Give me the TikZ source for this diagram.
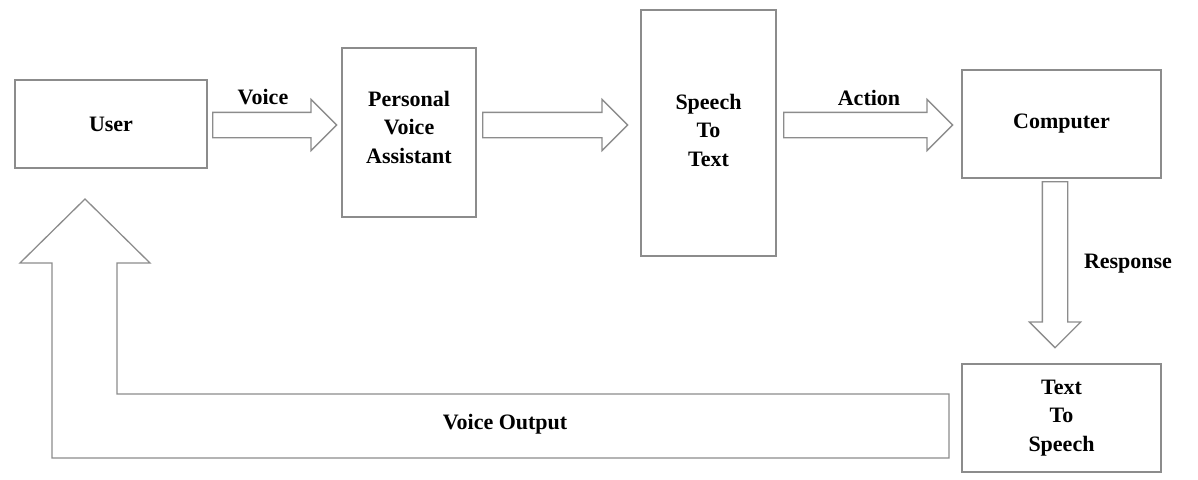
\documentclass[tikz,border=0pt]{standalone}
\usepackage{fontspec}
\setmainfont{Liberation Serif}
\usetikzlibrary{shapes.arrows}
\definecolor{linegray}{HTML}{8C8C8C}

\begin{document}
\begin{tikzpicture}[x=1pt, y=-1pt,
		box/.style={draw=linegray, line width=1.3pt, inner sep=0pt, align=center,
			font=\bfseries\fontsize{22}{28.5}\selectfont},
		lbl/.style={font=\bfseries\fontsize{22}{28.5}\selectfont, align=center},
		barrow/.style={single arrow, draw=linegray, line width=1.3pt, inner xsep=0pt,
			inner ysep=12pt, single arrow head extend=13pt, single arrow tip angle=90, anchor=tail}]
			\useasboundingbox (0,0) rectangle (1198,479);
			
			%% Blocks
			\node [box, minimum width=192, minimum height=88] (user) at (111,124) {User};
			\node [box, minimum width=134, minimum height=169,
			label={[lbl, yshift=5.5pt]center:{Personal\\Voice\\Assistant}}] (pva) at (409,132.5) {};
			\node [box, minimum width=135, minimum height=246,
			label={[lbl, yshift=3pt]center:{Speech\\To\\Text}}] (stt) at (708.5,133) {};
			\node [box, minimum width=199, minimum height=108] (comp) at (1061.5,124) {Computer};
			\node [box, minimum width=199, minimum height=108] (tts) at (1061.5,418) {Text\\To\\Speech};
			
			%% Block arrows
			\node [barrow, minimum height=124] (voice) at (212,125) {};
			\node [barrow, minimum height=145] (pass) at (482,125) {};
			\node [barrow, minimum height=169] (action) at (783,125) {};
			\node [barrow, minimum height=166, rotate=-90] (response) at (1055,181) {};
			
			%% Voice output back to the user
			\draw [linegray, line width=1.3pt] 
			(949,394) -- (117,394) -- (117,263) -- (150,263) -- (85,199) 
			-- (20,263) -- (52,263) -- (52,458) -- (949,458) -- cycle;
			
			%% Labels
			\node [lbl] (voicelbl) at (263,97) {Voice};
			\node [lbl] (actionlbl) at (869,98) {Action};
			\node [lbl] (responselbl) at (1128,264) {Response};
			\node [lbl] (outputlbl) at (505,424) {Voice Output};
\end{tikzpicture}
\end{document}
